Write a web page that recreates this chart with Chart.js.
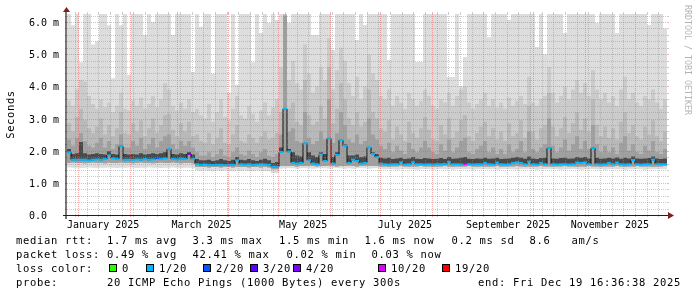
<!DOCTYPE html>
<html><head><meta charset="utf-8">
<script src="https://cdn.jsdelivr.net/npm/chart.js@4.4.1/dist/chart.umd.min.js"></script>
<style>html,body{margin:0;padding:0;background:#fff;}canvas{display:block;}</style>
</head><body>
<canvas id="c" width="697" height="297" style="width:697px;height:297px"></canvas>
<script>
// ---- data (ms), one value per column of the 360-day span ----
const median = [
1.95,1.72,1.72,1.72,1.72,1.70,1.72,1.73,1.72,1.74,1.85,1.76,1.74,2.14,1.72,
1.72,1.71,1.73,1.72,1.74,1.72,1.73,1.77,1.74,1.76,2.05,1.74,1.73,1.75,1.74,
1.90,1.74,1.58,1.56,1.57,1.56,1.55,1.56,1.56,1.55,1.56,1.56,1.70,1.58,1.57,
1.58,1.56,1.57,1.58,1.57,1.56,1.50,1.50,1.96,3.30,1.97,1.62,1.60,1.62,2.23,
1.70,1.60,1.58,1.88,1.68,2.38,1.60,1.87,2.33,2.15,1.62,1.72,1.68,1.60,1.62,
2.10,1.90,1.80,1.60,1.58,1.57,1.58,1.58,1.64,1.57,1.58,1.64,1.58,1.58,1.57,
1.58,1.57,1.58,1.58,1.59,1.65,1.58,1.58,1.57,1.58,1.58,1.57,1.58,1.58,1.62,
1.58,1.57,1.63,1.58,1.57,1.58,1.62,1.64,1.62,1.58,1.66,1.58,1.57,1.62,1.58,
2.08,1.58,1.57,1.58,1.58,1.57,1.58,1.63,1.62,1.64,1.58,2.08,1.58,1.57,1.58,
1.62,1.58,1.63,1.58,1.57,1.58,1.71,1.58,1.57,1.58,1.58,1.72,1.58,1.58,1.58];
const lossIndex = [
1,1,1,1,1,1,1,1,1,1,1,1,1,1,1,
1,1,1,1,1,1,1,2,1,1,1,1,1,1,1,
4,1,1,1,1,1,1,1,1,1,1,1,1,1,1,
1,1,1,1,1,1,1,1,1,1,1,1,1,1,1,
1,1,1,1,1,1,1,1,1,1,1,1,1,1,1,
1,1,1,1,1,1,1,1,1,1,1,1,1,1,1,
1,1,1,1,1,1,1,1,1,5,1,1,1,1,1,
1,1,1,1,1,1,1,1,1,1,1,1,1,1,1,
1,1,1,1,1,1,1,1,1,1,1,1,1,1,1,
1,1,1,1,1,1,1,1,1,1,1,1,1,1,1];
const maxPing = [
6.25,5.9,6.25,4.75,6.25,6.25,5.3,5.4,6.25,6.25,5.9,4.25,6.25,5.9,6.25,
4.35,6.25,6.25,6.25,5.6,6.25,6.0,6.25,6.25,6.25,6.25,5.6,6.25,6.25,6.25,
6.25,4.45,6.25,5.85,6.25,6.25,4.4,6.25,6.25,6.25,3.8,6.25,4.05,6.25,6.25,
6.25,4.75,6.25,5.66,6.25,5.97,6.25,6.06,6.25,6.25,5.97,6.25,6.25,6.25,6.25,
6.25,5.6,5.6,6.25,6.25,6.25,5.13,6.25,6.25,6.25,6.25,6.25,5.44,6.25,5.91,
6.25,6.25,6.25,6.25,6.25,4.82,6.25,6.25,6.25,6.25,6.25,6.25,4.76,4.76,6.25,
6.25,6.25,6.25,6.25,6.25,4.29,4.29,6.25,4.0,4.91,6.25,6.25,6.25,6.25,6.25,
5.53,6.25,6.25,6.25,6.25,6.06,6.25,6.25,6.25,6.25,6.25,6.25,5.22,6.25,5.0,
6.25,6.25,6.25,6.25,5.66,6.25,6.25,6.25,6.25,6.25,6.25,6.25,5.97,6.25,6.25,
6.25,6.25,5.66,6.25,6.25,6.25,6.25,6.25,6.25,6.25,5.91,6.25,6.25,6.25,5.8];
const smoke2 = [
3.55,3.40,3.90,4.20,4.15,3.70,3.45,3.30,3.60,3.35,3.50,3.20,3.40,3.80,3.30,
3.25,3.55,3.40,3.65,3.30,3.45,3.70,3.35,3.60,4.10,3.90,3.40,3.25,3.50,3.30,
3.60,3.20,3.30,3.10,3.00,3.45,2.90,3.20,3.60,3.05,2.95,3.30,3.70,3.10,3.00,
3.40,3.15,2.90,3.25,3.50,3.10,3.35,3.60,4.60,6.25,4.20,4.80,4.10,3.90,5.30,
4.40,3.80,4.00,4.60,4.20,5.50,3.90,4.50,5.20,4.80,4.10,3.70,4.30,3.60,4.00,
5.00,4.40,4.20,3.70,3.60,3.90,3.40,3.70,3.50,3.30,3.80,3.60,3.40,3.55,3.90,
3.70,3.40,3.30,3.60,3.50,3.80,3.40,3.70,3.90,4.00,3.50,3.30,3.45,3.60,3.80,
3.40,3.60,3.35,3.50,3.30,3.65,3.40,3.55,3.70,3.45,4.30,3.50,3.40,3.60,3.70,
4.60,3.80,3.50,3.70,4.00,3.60,3.90,4.20,3.80,4.10,3.70,4.50,3.90,3.60,3.80,
3.50,3.70,3.40,3.90,4.30,3.60,3.80,3.50,3.40,3.70,3.60,3.90,3.50,3.30,3.60];
const smoke3 = [
2.85,2.60,3.05,3.30,2.95,2.70,2.55,2.75,3.00,2.50,2.80,2.45,2.70,3.20,2.55,
2.50,2.85,2.60,2.95,2.45,2.70,3.00,2.55,2.80,3.10,3.15,2.65,2.45,2.85,2.60,
2.90,2.45,2.50,2.30,2.25,2.55,2.20,2.40,2.70,2.25,2.20,2.50,2.80,2.30,2.25,
2.50,2.40,2.25,2.45,2.60,2.35,2.40,2.55,3.20,6.20,3.30,3.50,2.90,2.80,4.20,
3.10,2.80,2.90,3.40,3.00,4.60,2.85,3.30,4.10,3.60,3.00,2.80,3.20,2.75,2.90,
3.90,3.20,3.00,2.70,2.60,2.95,2.35,2.75,2.50,2.30,2.90,2.55,2.40,2.70,3.05,
2.65,2.35,2.30,2.80,2.50,3.00,2.40,2.60,2.95,3.10,2.45,2.30,2.55,2.75,2.90,
2.45,2.70,2.35,2.60,2.30,2.85,2.45,2.55,2.95,2.40,3.40,2.60,2.35,2.70,2.80,
3.80,2.75,2.45,2.70,3.05,2.55,2.85,3.20,2.65,3.00,2.60,3.60,2.80,2.45,2.75,
2.40,2.70,2.35,2.90,3.20,2.55,2.80,2.45,2.35,2.75,2.50,2.95,2.45,2.30,2.60];
const smoke4 = [
2.35,2.15,2.40,2.55,2.30,2.15,2.10,2.25,2.40,2.10,2.30,2.05,2.20,2.50,2.10,
2.10,2.30,2.15,2.40,2.05,2.20,2.40,2.10,2.30,2.45,2.50,2.20,2.05,2.30,2.15,
2.30,2.10,1.95,1.85,1.85,1.95,1.80,1.90,2.05,1.85,1.80,1.95,2.10,1.90,1.85,
2.00,1.90,1.80,1.95,2.05,1.85,1.80,1.90,2.50,6.20,2.60,2.70,2.30,2.25,3.20,
2.40,2.20,2.30,2.60,2.35,3.60,2.25,2.55,3.20,2.80,2.35,2.25,2.50,2.20,2.30,
3.00,2.50,2.35,2.15,2.05,2.25,1.95,2.15,2.00,1.90,2.25,2.05,1.95,2.10,2.30,
2.10,1.95,1.90,2.20,2.00,2.35,1.95,2.10,2.30,2.40,1.95,1.90,2.05,2.15,2.30,
1.95,2.10,1.90,2.05,1.90,2.20,1.95,2.05,2.30,1.95,2.60,2.05,1.95,2.10,2.20,
3.00,2.15,1.95,2.10,2.35,2.00,2.20,2.45,2.05,2.30,2.05,2.80,2.20,1.95,2.15,
1.95,2.10,1.90,2.25,2.45,2.00,2.20,1.95,1.90,2.15,2.00,2.30,1.95,1.90,2.05];
const smoke5 = [
2.05,1.90,1.92,2.27,1.92,1.88,1.90,1.92,1.90,1.88,1.98,1.90,1.88,2.14,1.90,
1.88,1.90,1.88,1.92,1.88,1.90,1.92,1.90,1.92,1.95,2.05,1.90,1.88,1.92,1.90,
1.95,1.88,1.74,1.70,1.70,1.72,1.68,1.70,1.74,1.70,1.68,1.72,1.80,1.72,1.70,
1.74,1.70,1.68,1.72,1.75,1.70,1.62,1.65,2.10,3.30,2.05,1.95,1.85,1.82,2.23,
1.95,1.85,1.80,1.95,1.90,2.38,1.80,1.95,2.33,2.20,1.85,1.85,1.88,1.80,1.82,
2.10,1.95,1.90,1.78,1.76,1.78,1.74,1.76,1.78,1.74,1.76,1.80,1.75,1.74,1.77,
1.76,1.74,1.75,1.77,1.74,1.80,1.75,1.76,1.78,1.80,1.75,1.74,1.76,1.75,1.78,
1.75,1.76,1.78,1.74,1.75,1.76,1.78,1.80,1.78,1.75,1.82,1.76,1.74,1.77,1.78,
2.10,1.76,1.75,1.77,1.78,1.75,1.76,1.80,1.78,1.80,1.76,2.10,1.78,1.75,1.76,
1.78,1.76,1.79,1.75,1.78,1.76,1.82,1.76,1.75,1.76,1.77,1.82,1.76,1.74,1.76];
const lowSmoke = [
1.62,1.63,1.62,1.62,1.61,1.62,1.63,1.62,1.62,1.61,1.63,1.62,1.62,1.63,1.62,
1.62,1.61,1.62,1.63,1.62,1.62,1.61,1.62,1.63,1.62,1.62,1.63,1.62,1.61,1.62,
1.62,1.61,1.50,1.49,1.49,1.48,1.49,1.49,1.48,1.49,1.49,1.48,1.50,1.49,1.49,
1.48,1.49,1.49,1.48,1.49,1.48,1.42,1.42,1.52,1.53,1.52,1.52,1.51,1.52,1.52,
1.53,1.52,1.51,1.52,1.52,1.53,1.52,1.51,1.52,1.52,1.53,1.52,1.51,1.52,1.52,
1.52,1.53,1.52,1.51,1.51,1.50,1.51,1.51,1.52,1.51,1.50,1.51,1.51,1.52,1.51,
1.51,1.50,1.51,1.51,1.52,1.51,1.50,1.51,1.51,1.51,1.52,1.51,1.50,1.51,1.51,
1.51,1.51,1.52,1.50,1.51,1.51,1.51,1.52,1.51,1.50,1.51,1.51,1.51,1.52,1.51,
1.51,1.50,1.51,1.51,1.52,1.51,1.51,1.50,1.51,1.51,1.52,1.51,1.51,1.50,1.51,
1.51,1.51,1.52,1.51,1.50,1.51,1.51,1.52,1.51,1.51,1.51,1.50,1.51,1.51,1.52];
const minPing = [
1.48,1.47,1.47,1.46,1.47,1.48,1.47,1.46,1.47,1.47,1.48,1.47,1.46,1.47,1.47,
1.48,1.47,1.46,1.47,1.47,1.48,1.47,1.47,1.46,1.47,1.47,1.48,1.47,1.46,1.47,
1.47,1.45,1.38,1.37,1.38,1.37,1.36,1.38,1.37,1.38,1.37,1.36,1.38,1.37,1.38,
1.37,1.36,1.38,1.37,1.37,1.36,1.30,1.30,1.44,1.45,1.46,1.45,1.44,1.45,1.46,
1.45,1.44,1.45,1.46,1.45,1.44,1.45,1.46,1.45,1.44,1.45,1.44,1.45,1.46,1.45,
1.44,1.45,1.46,1.44,1.42,1.43,1.42,1.41,1.42,1.43,1.42,1.42,1.41,1.42,1.43,
1.42,1.41,1.42,1.43,1.42,1.42,1.41,1.42,1.43,1.42,1.42,1.41,1.42,1.42,1.43,
1.42,1.42,1.41,1.42,1.43,1.42,1.42,1.41,1.42,1.42,1.43,1.42,1.41,1.42,1.42,
1.43,1.42,1.42,1.41,1.42,1.42,1.43,1.42,1.41,1.42,1.42,1.43,1.42,1.42,1.41,
1.42,1.43,1.42,1.42,1.41,1.42,1.42,1.43,1.42,1.41,1.42,1.42,1.43,1.42,1.42];

// ---- axes / labels ----
const startTime = Date.UTC(2024, 11, 25, 6, 43);   // left edge of graph
const spanDays = 360;
const yMax = 6.25;
const yMinorStep = 0.2;
const yTickValues = [0, 1, 2, 3, 4, 5, 6];
const yTickLabels = ['0.0', '1.0 m', '2.0 m', '3.0 m', '4.0 m', '5.0 m', '6.0 m'];
const xLabelText = ['January 2025', 'March 2025', 'May 2025', 'July 2025', 'September 2025', 'November 2025'];
const xLabelMonth = [0, 2, 4, 6, 8, 10];
const lossColors = ['#26ff00', '#00b8ff', '#0059ff', '#5e00ff', '#7e00ff', '#dd00ff', '#ff0000'];
const lossLabels = ['0', '1/20', '2/20', '3/20', '4/20', '10/20', '19/20'];
const smokeColors = ['#dddddd', '#cbcbcb', '#b9b9b9', '#a0a0a0', '#4a4a4a'];
const legendRows = [
  [[16, 'median rtt:'], [107, '1.7 ms avg'], [192.5, '3.3 ms max'], [279, '1.5 ms min'], [364.5, '1.6 ms now'], [451.5, '0.2 ms sd'], [529.5, '8.6'], [571.5, 'am/s']],
  [[16, 'packet loss:'], [107, '0.49 % avg'], [192.5, '42.41 % max'], [286.5, '0.02 % min'], [371.5, '0.03 % now']],
  [[16, 'loss color:']],
  [[16, 'probe:'], [107, '20 ICMP Echo Pings (1000 Bytes) every 300s'], [478, 'end: Fri Dec 19 16:36:38 2025']]
];
const lossBoxX = [109, 146, 203, 250, 293, 378, 442];

const DAY = 86400000;
const dayOf = t => (t - startTime) / DAY;
const N = median.length;
const colDays = spanDays / N;
const stepPts = arr => arr.map((v, i) => ({x: i * colDays, y: v})).concat([{x: spanDays, y: arr[arr.length - 1]}]);
const centerPts = arr => arr.map((v, i) => ({x: (i + 0.5) * colDays, y: v}));

const bands = [
  [minPing, maxPing], [lowSmoke, smoke2], [lowSmoke, smoke3], [lowSmoke, smoke4], [median, smoke5]
];
const datasets = [];
bands.forEach(([lo, hi], k) => {
  const ord = 40 - k * 2;
  datasets.push({data: stepPts(lo), stepped: true, borderColor: 'rgba(0,0,0,0)', borderWidth: 0, pointRadius: 0, fill: false, order: ord});
  datasets.push({data: stepPts(hi), stepped: true, borderColor: 'rgba(0,0,0,0)', borderWidth: 0, pointRadius: 0, fill: '-1', backgroundColor: smokeColors[k], order: ord - 1});
});
datasets.push({data: stepPts(median), stepped: true, borderColor: '#111111', borderWidth: 1, pointRadius: 0, fill: false, order: 2});
datasets.push({data: centerPts(median), showLine: false, pointStyle: 'line', pointRadius: 2, pointHoverRadius: 2,
  pointBorderWidth: 2, pointBorderColor: lossIndex.map(l => lossColors[l]), fill: false, order: 1});

const monthDays = [];
for (let m = 0; m < 12; m++) monthDays.push(dayOf(Date.UTC(2025, m, 1)));
const weekDays = [];
for (let t = Date.UTC(2024, 11, 30); dayOf(t) < spanDays; t += 7 * DAY) weekDays.push(dayOf(t));

const rrdPlugin = {
  id: 'rrd',
  afterDatasetsDraw(chart) {
    const {ctx, chartArea: a, scales: {x, y}} = chart;
    ctx.save();
    ctx.lineWidth = 1;
    const minorC = 'rgba(143,143,143,0.45)';
    const majorC = 'rgba(222,80,80,0.45)';
    const hline = (py, c) => {
      ctx.strokeStyle = c;
      ctx.setLineDash([]);
      ctx.beginPath(); ctx.moveTo(a.left - 2, py); ctx.lineTo(a.left, py); ctx.moveTo(a.right, py); ctx.lineTo(a.right + 2, py); ctx.stroke();
      ctx.setLineDash([1, 1]);
      ctx.beginPath(); ctx.moveTo(a.left, py); ctx.lineTo(a.right, py); ctx.stroke();
    };
    const vline = (px, c) => {
      ctx.strokeStyle = c;
      ctx.setLineDash([]);
      ctx.beginPath(); ctx.moveTo(px, a.top - 2); ctx.lineTo(px, a.top); ctx.moveTo(px, a.bottom); ctx.lineTo(px, a.bottom + 2); ctx.stroke();
      ctx.setLineDash([1, 1]);
      ctx.beginPath(); ctx.moveTo(px, a.bottom); ctx.lineTo(px, a.top); ctx.stroke();
    };
    for (let k = 1; k * yMinorStep <= yMax + 1e-9; k++) {
      const v = k * yMinorStep;
      if (Math.abs(v - Math.round(v)) < 1e-6) continue;
      hline(Math.round(y.getPixelForValue(v)) + 0.5, minorC);
    }
    weekDays.forEach(d => {
      if (d <= 0 || monthDays.some(m => Math.abs(m - d) < 0.5)) return;
      vline(Math.round(x.getPixelForValue(d)) + 0.5, minorC);
    });
    yTickValues.forEach(v => { if (v > 0) hline(Math.round(y.getPixelForValue(v)) + 0.5, majorC); });
    monthDays.forEach(d => { if (d > 0 && d < spanDays) vline(Math.round(x.getPixelForValue(d)) + 0.5, majorC); });
    ctx.restore();
  },
  afterDraw(chart) {
    const {ctx, chartArea: a, scales: {x, y}} = chart;
    ctx.save();
    ctx.setLineDash([]);
    // axes
    ctx.lineWidth = 1;
    ctx.strokeStyle = '#1f1f1f';
    ctx.beginPath(); ctx.moveTo(a.left - 4, a.bottom + 0.5); ctx.lineTo(a.right + 3, a.bottom + 0.5); ctx.stroke();
    ctx.strokeStyle = 'rgba(31,31,31,0.6)';
    ctx.lineWidth = 2;
    ctx.beginPath(); ctx.moveTo(a.left - 1, a.bottom + 4); ctx.lineTo(a.left - 1, a.top - 3); ctx.stroke();
    ctx.fillStyle = '#801f1f';
    ctx.beginPath(); ctx.moveTo(a.left - 4, a.top - 2); ctx.lineTo(a.left + 3, a.top - 2); ctx.lineTo(a.left - 0.5, a.top - 7); ctx.closePath(); ctx.fill();
    ctx.beginPath(); ctx.moveTo(a.right + 1, a.bottom - 3); ctx.lineTo(a.right + 1, a.bottom + 4); ctx.lineTo(a.right + 7, a.bottom + 0.5); ctx.closePath(); ctx.fill();

    // y tick labels
    ctx.fillStyle = '#000';
    ctx.font = '10px "DejaVu Sans Mono"';
    ctx.textAlign = 'left';
    ctx.textBaseline = 'alphabetic';
    yTickValues.forEach((v, i) => {
      const py = Math.round(y.getPixelForValue(v));
      ctx.fillText(yTickLabels[i], 29, py + 4);
    });
    // x labels (centred mid-month)
    ctx.textAlign = 'center';
    xLabelMonth.forEach((m, i) => {
      const d = dayOf(Date.UTC(2025, m, 1)) + 15;
      ctx.fillText(xLabelText[i], x.getPixelForValue(d), 228);
    });
    // y title
    const hasLS = 'letterSpacing' in ctx;
    ctx.save();
    ctx.translate(11, 114.5);
    ctx.rotate(-Math.PI / 2);
    ctx.font = '10.5px "DejaVu Sans Mono"';
    if (hasLS) ctx.letterSpacing = '0.6px';
    ctx.textAlign = 'center';
    ctx.textBaseline = 'middle';
    ctx.fillText('Seconds', 0, 0);
    ctx.restore();
    // watermark
    ctx.save();
    ctx.translate(691, 5);
    ctx.rotate(Math.PI / 2);
    ctx.font = '8.3px "DejaVu Sans Mono"';
    ctx.fillStyle = '#b4b4b4';
    ctx.textAlign = 'left';
    ctx.textBaseline = 'top';
    ctx.fillText('RRDTOOL / TOBI OETIKER', 0, 0);
    ctx.restore();
    // legend
    ctx.font = '10.5px "DejaVu Sans Mono"';
    if (hasLS) ctx.letterSpacing = '0.68px';
    ctx.textAlign = 'left';
    ctx.textBaseline = 'alphabetic';
    ctx.fillStyle = '#000';
    const baselines = [244, 258, 272, 286];
    legendRows.forEach((row, r) => row.forEach(([lx, txt]) => ctx.fillText(txt, lx, baselines[r])));
    lossBoxX.forEach((bx, i) => {
      ctx.fillStyle = lossColors[i];
      ctx.fillRect(bx, 264, 8, 8);
      ctx.strokeStyle = '#000';
      ctx.lineWidth = 1;
      ctx.strokeRect(bx + 0.5, 264.5, 7, 7);
      ctx.fillStyle = '#000';
      ctx.fillText(lossLabels[i], bx + 13, baselines[2]);
    });
    if (hasLS) ctx.letterSpacing = '0px';
    ctx.restore();
  }
};

new Chart(document.getElementById('c'), {
  type: 'line',
  data: {datasets},
  options: {
    responsive: false,
    animation: false,
    devicePixelRatio: 1,
    layout: {padding: {left: 67, right: 30, top: 14, bottom: 82}},
    scales: {
      x: {type: 'linear', min: 0, max: spanDays, display: false},
      y: {type: 'linear', min: 0, max: yMax, display: false}
    },
    plugins: {legend: {display: false}, tooltip: {enabled: false}},
    events: []
  },
  plugins: [rrdPlugin]
});
</script>
</body></html>
